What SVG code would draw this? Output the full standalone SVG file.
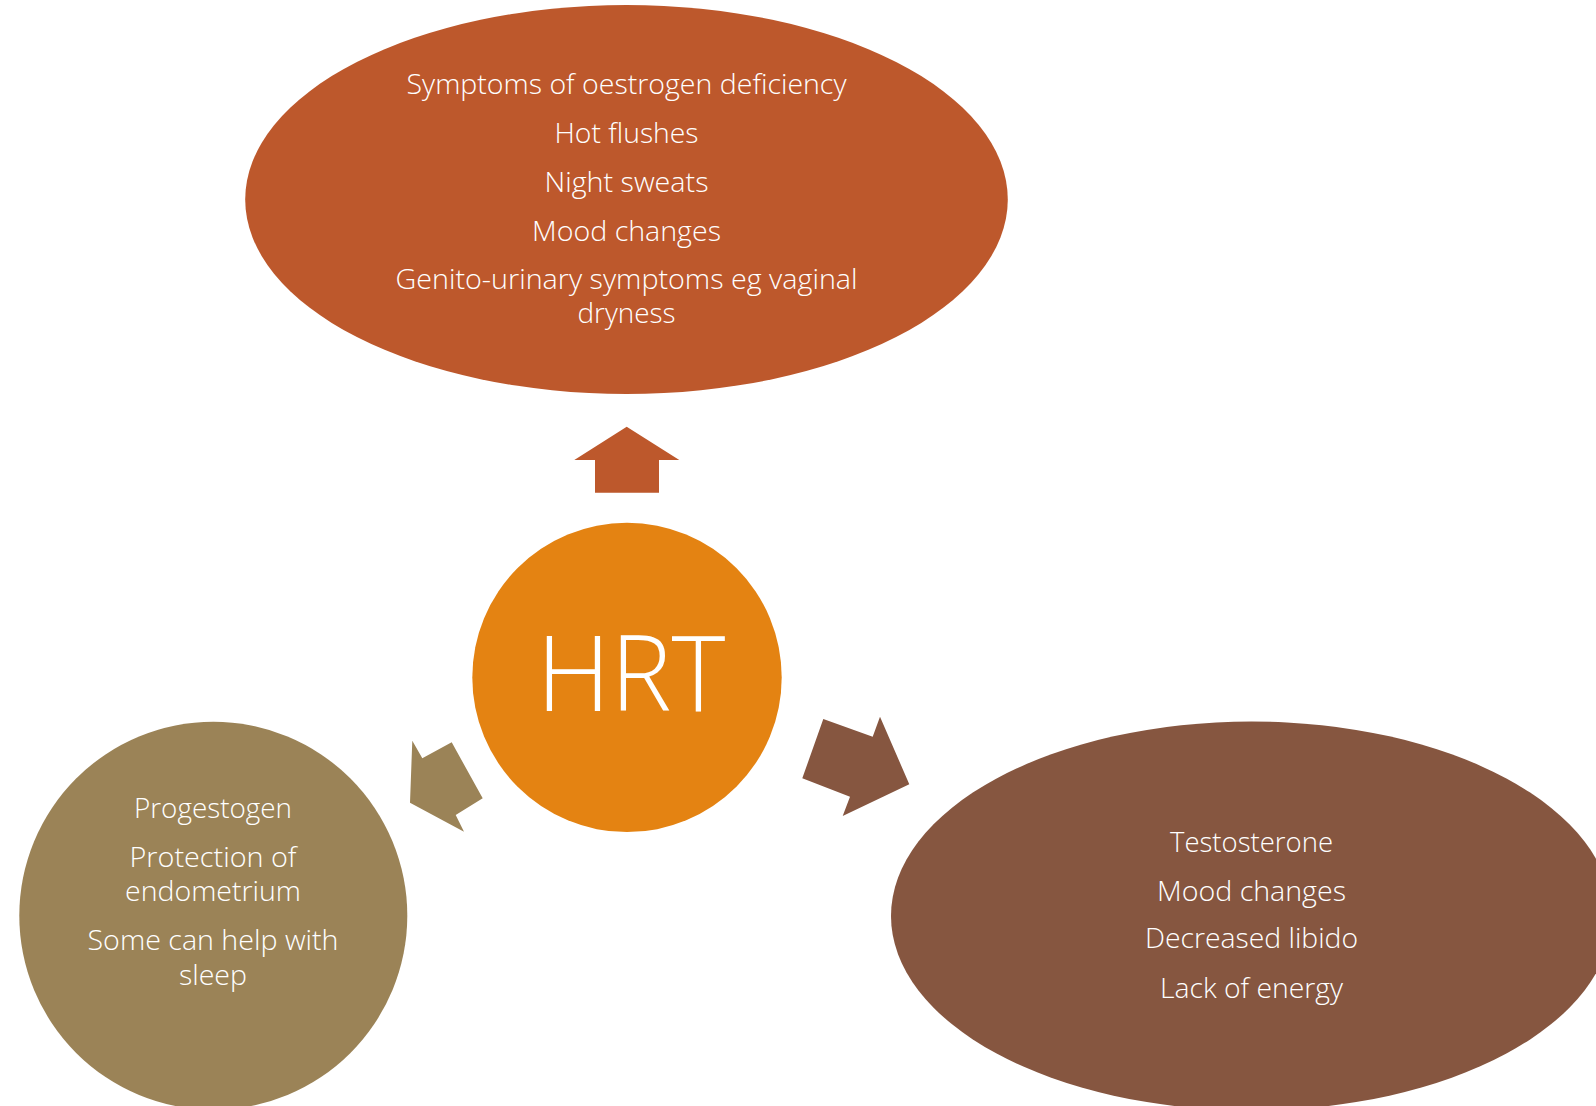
<svg xmlns="http://www.w3.org/2000/svg" width="1596" height="1106" viewBox="0 0 1596 1106">
  <style>
    .lbl { font-family: "Open Sans", "Liberation Sans", sans-serif; font-weight: 300; font-size: 27px; fill: #FFFFFF; text-anchor: middle; }
    .hub { font-family: "Open Sans", "Liberation Sans", sans-serif; font-weight: 300; font-size: 106px; fill: #FFFFFF; text-anchor: middle; }
  </style>
  <rect x="0" y="0" width="1596" height="1106" fill="#FFFFFF"/>

  <!-- block arrows pointing out from the hub -->
  <g id="connectors">
    <polygon id="arrow-oestrogen" fill="#BD582C" points="626.7,426.7 679.3,460 659,460 659,492.7 595,492.7 595,460 574.3,460"/>
    <polygon id="arrow-progestogen" fill="#9B8357" points="410,802.7 412.3,740.7 422.3,758.3 451.7,742.3 482.7,798.3 455.7,815 464,831.7"/>
    <polygon id="arrow-testosterone" fill="#865640" points="823.3,719 872.7,736.7 880,716.7 909.3,784.3 842.7,816 850,796.7 802.3,778.3"/>
  </g>

  <g id="node-oestrogen">
    <ellipse cx="626.5" cy="199.5" rx="381.3" ry="194.5" fill="#BD582C"/>
    <text class="lbl" x="626.5" y="94.3" textLength="440" lengthAdjust="spacingAndGlyphs">Symptoms of oestrogen deficiency</text>
    <text class="lbl" x="626.5" y="142.7" textLength="144" lengthAdjust="spacingAndGlyphs">Hot flushes</text>
    <text class="lbl" x="626.5" y="192" textLength="164" lengthAdjust="spacingAndGlyphs">Night sweats</text>
    <text class="lbl" x="626.5" y="241" textLength="189" lengthAdjust="spacingAndGlyphs">Mood changes</text>
    <text class="lbl" x="626.5" y="289.3" textLength="462" lengthAdjust="spacingAndGlyphs">Genito-urinary symptoms eg vaginal</text>
    <text class="lbl" x="626.5" y="322.7" textLength="98" lengthAdjust="spacingAndGlyphs">dryness</text>
  </g>

  <g id="node-hrt">
    <circle cx="627" cy="677.4" r="154.7" fill="#E48312"/>
    <text class="hub" x="631" y="710.7" textLength="189" lengthAdjust="spacingAndGlyphs">HRT</text>
  </g>

  <g id="node-progestogen">
    <circle cx="213.3" cy="915.7" r="194" fill="#9B8357"/>
    <text class="lbl" x="213" y="817.7" textLength="158" lengthAdjust="spacingAndGlyphs">Progestogen</text>
    <text class="lbl" x="213" y="866.7" textLength="167" lengthAdjust="spacingAndGlyphs">Protection of</text>
    <text class="lbl" x="213" y="901" textLength="176" lengthAdjust="spacingAndGlyphs">endometrium</text>
    <text class="lbl" x="213" y="950.3" textLength="251" lengthAdjust="spacingAndGlyphs">Some can help with</text>
    <text class="lbl" x="213" y="985" textLength="68" lengthAdjust="spacingAndGlyphs">sleep</text>
  </g>

  <g id="node-testosterone">
    <ellipse cx="1251.5" cy="916" rx="360.5" ry="194.5" fill="#865640"/>
    <text class="lbl" x="1251.5" y="852" textLength="163" lengthAdjust="spacingAndGlyphs">Testosterone</text>
    <text class="lbl" x="1251.5" y="901" textLength="189" lengthAdjust="spacingAndGlyphs">Mood changes</text>
    <text class="lbl" x="1251.5" y="948.3" textLength="213" lengthAdjust="spacingAndGlyphs">Decreased libido</text>
    <text class="lbl" x="1251.5" y="997.7" textLength="183" lengthAdjust="spacingAndGlyphs">Lack of energy</text>
  </g>
</svg>
